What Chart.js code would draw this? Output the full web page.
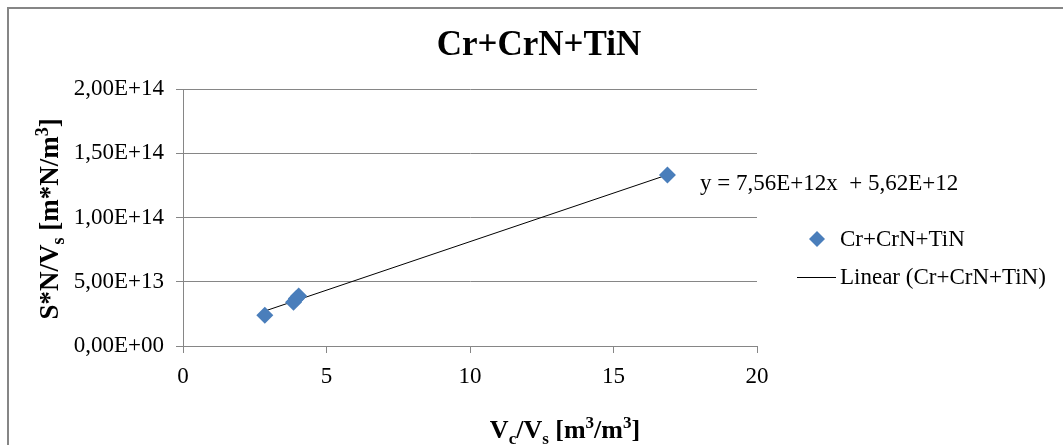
<!DOCTYPE html>
<html>
<head>
<meta charset="utf-8">
<script src="https://cdn.jsdelivr.net/npm/chart.js@4"></script>
<style>
  html, body { margin: 0; padding: 0; background: #fff; }
  #wrap { width: 1063px; height: 445px; position: relative; }
</style>
</head>
<body>
<div id="wrap"><canvas id="canvas" width="1063" height="445"></canvas></div>
<script>
// data
const seriesName = 'Cr+CrN+TiN';
const pointsX = [2.85, 3.85, 3.95, 4.03, 16.88];
const pointsY = [2.4e13, 3.4e13, 3.7e13, 3.9e13, 1.33e14];
// trend line end points
const trendX = [2.85, 16.88];
const trendY = [2.72e13, 1.332e14];
const xTicks = [0, 5, 10, 15, 20];
const yTicks = [0, 5e13, 1e14, 1.5e14, 2e14];
const equation = 'y = 7,56E+12x  + 5,62E+12';

const serif = '"Liberation Serif", "Times New Roman", serif';
const gray = '#868686';
const blue = '#4a7ebb';

function fmtE(v) {
  var s = v.toExponential(2).split('e');
  var exp = parseInt(s[1], 10);
  var e = (exp < 0 ? '-' : '+') + String(Math.abs(exp)).padStart(2, '0');
  return s[0].replace('.', ',') + 'E' + e;
}

// draws text pieces with sub / sup, centred on x
function drawRich(ctx, parts, x, y, size, weight) {
  var small = Math.round(size * 0.65);
  var total = 0;
  parts.forEach(function(p) {
    ctx.font = weight + ' ' + (p.s ? small : size) + 'px ' + serif;
    p.w = ctx.measureText(p.t).width;
    total += p.w;
  });
  var cx = x - total / 2;
  ctx.textBaseline = 'alphabetic';
  ctx.textAlign = 'left';
  parts.forEach(function(p) {
    ctx.font = weight + ' ' + (p.s ? small : size) + 'px ' + serif;
    var dy = 0;
    if (p.s === 'sub') dy = size * 0.22;
    if (p.s === 'sup') dy = -size * 0.38;
    ctx.fillText(p.t, cx, y + dy);
    cx += p.w;
  });
}

const extras = {
  id: 'extras',
  afterDraw: function(chart) {
    var ctx = chart.ctx;
    ctx.save();
    // frame
    ctx.strokeStyle = gray;
    ctx.lineWidth = 2;
    ctx.beginPath();
    ctx.moveTo(8, 445);
    ctx.lineTo(8, 8);
    ctx.lineTo(1063, 8);
    ctx.stroke();

    ctx.fillStyle = '#000';
    // title
    ctx.font = 'bold 35px ' + serif;
    ctx.textAlign = 'center';
    ctx.textBaseline = 'middle';
    ctx.fillText(seriesName, 539, 46);

    // axis titles
    drawRich(ctx, [{t: 'V'}, {t: 'c', s: 'sub'}, {t: '/V'}, {t: 's', s: 'sub'},
      {t: ' [m'}, {t: '3', s: 'sup'}, {t: '/m'}, {t: '3', s: 'sup'}, {t: ']'}],
      565, 438, 26, 'bold');
    ctx.save();
    ctx.translate(58, 219);
    ctx.rotate(-Math.PI / 2);
    drawRich(ctx, [{t: 'S*N/V'}, {t: 's', s: 'sub'}, {t: ' [m*N/m'}, {t: '3', s: 'sup'}, {t: ']'}],
      0, 0, 27, 'bold');
    ctx.restore();

    // trend equation
    ctx.font = '23px ' + serif;
    ctx.textAlign = 'left';
    ctx.textBaseline = 'middle';
    ctx.fillText(equation, 700, 184);

    // legend
    var ds = chart.data.datasets;
    ctx.fillStyle = ds[0].backgroundColor;
    ctx.beginPath();
    ctx.moveTo(817, 231); ctx.lineTo(825, 239); ctx.lineTo(817, 247); ctx.lineTo(809, 239);
    ctx.closePath();
    ctx.fill();
    ctx.strokeStyle = ds[1].borderColor;
    ctx.lineWidth = 1;
    ctx.beginPath();
    ctx.moveTo(797, 277.5); ctx.lineTo(836, 277.5);
    ctx.stroke();
    ctx.fillStyle = '#000';
    ctx.fillText(ds[0].label, 840, 240);
    ctx.fillText(ds[1].label, 840, 278);
    ctx.restore();
  }
};

var ctx = document.getElementById('canvas').getContext('2d');
const myChart = new Chart(ctx, {
  type: 'scatter',
  data: {
    datasets: [{
      label: seriesName,
      data: pointsX.map(function(x, i) { return {x: x, y: pointsY[i]}; }),
      backgroundColor: blue,
      borderColor: blue,
      pointStyle: 'rectRot',
      pointRadius: 8.5,
      pointHoverRadius: 8.5,
      borderWidth: 0
    }, {
      type: 'line',
      label: 'Linear (' + seriesName + ')',
      data: trendX.map(function(x, i) { return {x: x, y: trendY[i]}; }),
      borderColor: '#000',
      borderWidth: 1,
      pointRadius: 0,
      showLine: true,
      fill: false
    }]
  },
  options: {
    responsive: false,
    animation: false,
    layout: { padding: { left: 0, right: 306, top: 89, bottom: 0 } },
    plugins: {
      legend: { display: false },
      title: { display: false },
      tooltip: { enabled: false }
    },
    scales: {
      x: {
        type: 'linear',
        min: 0, max: 20,
        afterBuildTicks: function(s) { s.ticks = xTicks.map(function(v) { return {value: v}; }); },
        afterFit: function(s) { s.height = 99; },
        ticks: { color: '#000', font: { family: serif, size: 23 }, padding: 10 },
        grid: { drawOnChartArea: false, drawTicks: true, tickLength: 7, color: gray },
        border: { color: gray }
      },
      y: {
        min: 0, max: 2e14,
        afterBuildTicks: function(s) { s.ticks = yTicks.map(function(v) { return {value: v}; }); },
        afterFit: function(s) { s.width = 183; },
        ticks: { color: '#000', font: { family: serif, size: 23 }, padding: 12, callback: function(v) { return fmtE(v); } },
        grid: { color: gray, tickLength: 7 },
        border: { color: gray }
      }
    }
  },
  plugins: [extras]
});
</script>
</body>
</html>
